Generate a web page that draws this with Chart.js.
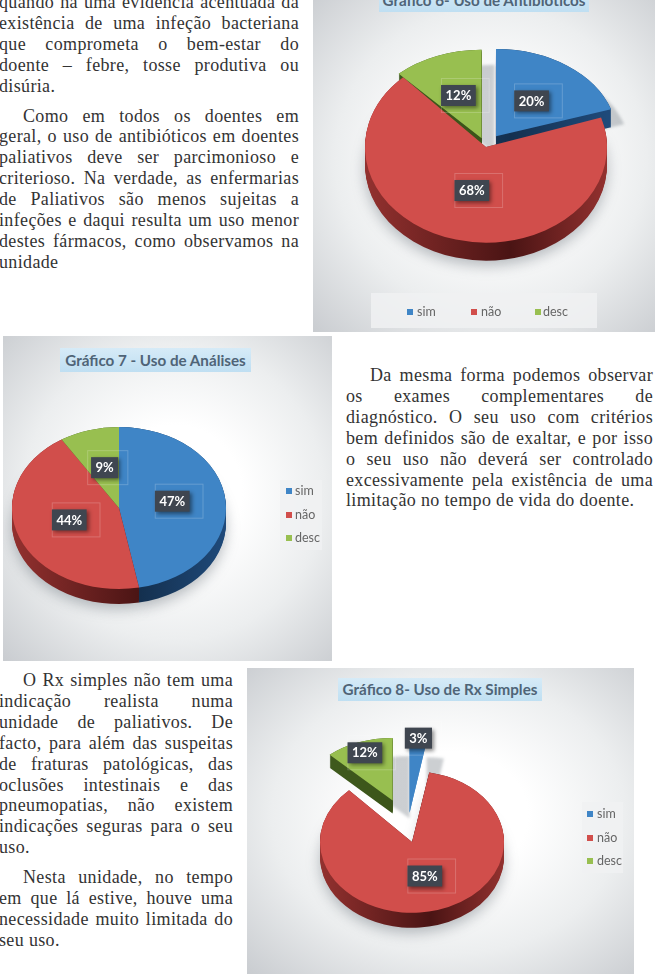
<!DOCTYPE html>
<html lang="pt">
<head>
<meta charset="utf-8">
<title>Uso de meios complementares</title>
<script src="https://cdn.jsdelivr.net/npm/chart.js@4/dist/chart.umd.js"></script>
<style>
	html, body { margin: 0; width: 656px; height: 976px; background: #fff; overflow: hidden; }
	body { position: relative; }
	.col { position: absolute; font: 18px/20.9px "Liberation Serif", serif; letter-spacing: 0.35px; color: #333; }
	.col div { white-space: nowrap; }
	.col .fill { white-space: normal; text-align: justify; text-align-last: justify; }
	.col .gap { margin-top: 9px; }
	.col .ind { text-indent: 24px; }
	.panel { position: absolute; overflow: hidden; background: radial-gradient(ellipse at 52% 48%, #fff 28%, #eceeef 62%, #c9ccd0 100%); }
	.panel canvas { position: absolute; left: 0; top: 0; }
	.title { position: absolute; font: bold 15.2px Lato, sans-serif; color: #4f6477; text-align: center; white-space: nowrap; background: linear-gradient(#d6ebf7, #bfdff2); }
	.legend { position: absolute; background: rgba(240, 241, 242, 0.85); font: 12.5px Lato, sans-serif; color: #666; }
	.legend span { position: absolute; white-space: nowrap; line-height: 14px; }
	.legend i { position: absolute; width: 6px; height: 6px; }
</style>
</head>
<body>
<script>
const categories = ['sim', 'não', 'desc'];
const sliceColors = ['#3f85c6', '#d14e4b', '#98bf50'];
const sideColors = [['#1f4a7a', '#14304f'], ['#93312f', '#4a1414'], ['#3f5a1d', '#3a5219']];

const antibioticos = [20, 68, 12];
const analises = [47, 44, 9];
const rxSimples = [3, 85, 12];

const textBlocoA = [
	['quando há uma evidência acentuada da', 'fill'],
	['existência de uma infeção bacteriana', 'fill'],
	['que comprometa o bem-estar do', 'fill'],
	['doente – febre, tosse produtiva ou', 'fill'],
	['disúria.', ''],
	['Como em todos os doentes em', 'fill gap ind'],
	['geral, o uso de antibióticos em doentes', 'fill'],
	['paliativos deve ser parcimonioso e', 'fill'],
	['criterioso. Na verdade, as enfermarias', 'fill'],
	['de Paliativos são menos sujeitas a', 'fill'],
	['infeções e daqui resulta um uso menor', 'fill'],
	['destes fármacos, como observamos na', 'fill'],
	['unidade', ''],
];
const textBlocoB = [
	['Da mesma forma podemos observar', 'fill ind'],
	['os exames complementares de', 'fill'],
	['diagnóstico. O seu uso com critérios', 'fill'],
	['bem definidos são de exaltar, e por isso', 'fill'],
	['o seu uso não deverá ser controlado', 'fill'],
	['excessivamente pela existência de uma', 'fill'],
	['limitação no tempo de vida do doente.', ''],
];
const textBlocoC = [
	['O Rx simples não tem uma', 'fill ind'],
	['indicação realista numa', 'fill'],
	['unidade de paliativos. De', 'fill'],
	['facto, para além das suspeitas', 'fill'],
	['de fraturas patológicas, das', 'fill'],
	['oclusões intestinais e das', 'fill'],
	['pneumopatias, não existem', 'fill'],
	['indicações seguras para o seu', 'fill'],
	['uso.', ''],
	['Nesta unidade, no tempo', 'fill gap ind'],
	['em que lá estive, houve uma', 'fill'],
	['necessidade muito limitada do', 'fill'],
	['seu uso.', ''],
];

const addText = (lines, left, top, width) => {
	const col = document.createElement('div');
	col.className = 'col';
	col.style.cssText = `left:${left}px;top:${top}px;width:${width}px`;
	lines.forEach(([text, cls]) => {
		const line = document.createElement('div');
		line.textContent = text;
		line.className = cls;
		col.appendChild(line);
	});
	document.body.appendChild(col);
};

// each slice gets its own vertical squash around its tip
const applySquash = (ctx, arc, i, o) => {
	const tipY = o.cy + (arc.y - o.cy) * o.squash;
	ctx.translate(0, tipY);
	ctx.scale(1, o.sliceSquash[i]);
	ctx.translate(0, -arc.y);
};

const drawArc = (ctx, arc, fill) => {
	const saved = arc.options;
	arc.options = { ...saved, backgroundColor: fill };
	arc.draw(ctx);
	arc.options = saved;
};

// tilted pie: exploded slices, cast shadow, extruded side, flat top
const pie3d = {
	id: 'pie3d',
	afterDatasetUpdate(chart) {
		const { explode, nudge } = chart.options.plugins.pie3d;
		chart.getDatasetMeta(0).data.forEach((arc, i) => {
			const mid = (arc.startAngle + arc.endAngle) / 2;
			arc.x += Math.cos(mid) * explode[i] + nudge[i];
			arc.y += Math.sin(mid) * explode[i];
		});
	},
	beforeDatasetDraw() {
		return false;
	},
	beforeDatasetsDraw(chart) {
		const { ctx } = chart;
		const o = chart.options.plugins.pie3d;
		const arcs = chart.getDatasetMeta(0).data;

		const sides = sideColors.map(([a, b]) => {
			const grad = ctx.createLinearGradient(o.cx - o.radius, 0, o.cx + o.radius, 0);
			grad.addColorStop(0, a);
			grad.addColorStop(0.6, b);
			grad.addColorStop(1, a);
			return grad;
		});

		arcs.forEach((arc, i) => {
			const lifted = o.explode[i] > 0;
			ctx.save();
			applySquash(ctx, arc, i, o);
			ctx.shadowColor = lifted ? 'rgba(120, 128, 136, 0.38)' : 'rgba(80, 90, 100, 0.4)';
			ctx.shadowBlur = lifted ? 3 : 14;
			ctx.shadowOffsetX = lifted ? o.castShadow[0] : 0;
			ctx.shadowOffsetY = lifted ? o.castShadow[1] : o.sliceDepth[i] + 5;
			drawArc(ctx, arc, lifted && !o.sliceDepth[i] ? sliceColors[i] : sides[i]);
			ctx.restore();
		});

		arcs.forEach((arc, i) => {
			for (let d = o.sliceDepth[i]; d >= 1; d--) {
				ctx.save();
				ctx.translate(0, d);
				applySquash(ctx, arc, i, o);
				drawArc(ctx, arc, sides[i]);
				ctx.restore();
			}
		});

		arcs.forEach((arc, i) => {
			ctx.save();
			applySquash(ctx, arc, i, o);
			arc.draw(ctx);
			ctx.restore();
		});
	},
	afterDatasetsDraw(chart) {
		const { ctx } = chart;
		const o = chart.options.plugins.pie3d;
		const arcs = chart.getDatasetMeta(0).data;
		const values = chart.data.datasets[0].data;

		// value tags sit on top of the slices
		ctx.save();
		ctx.font = 'bold 13px Lato, sans-serif';
		ctx.textAlign = 'center';
		ctx.textBaseline = 'middle';
		arcs.forEach((arc, i) => {
			const mid = (arc.startAngle + arc.endAngle) / 2;
			const r = arc.outerRadius * o.labelPos[i];
			const tipY = o.cy + (arc.y - o.cy) * o.squash;
			const x = arc.x + Math.cos(mid) * r;
			const y = tipY + Math.sin(mid) * r * o.sliceSquash[i] - o.labelLift;
			const text = `${values[i]}%`;
			const w = ctx.measureText(text).width + 9;
			ctx.strokeStyle = 'rgba(255, 255, 255, 0.2)';
			ctx.lineWidth = 1;
			ctx.strokeRect(x - 17, y - 17, w + 13, 34);
			ctx.save();
			ctx.shadowColor = 'rgba(0, 0, 0, 0.45)';
			ctx.shadowBlur = 4;
			ctx.shadowOffsetX = 2;
			ctx.shadowOffsetY = 2;
			ctx.fillStyle = '#3f4650';
			ctx.fillRect(x - w / 2, y - 10.5, w, 21);
			ctx.restore();
			ctx.fillStyle = '#fff';
			ctx.fillText(text, x, y + 0.5);
		});
		ctx.restore();
	},
};

const addPie = (cfg) => {
	const { box, title, legend, values, cx, cy } = cfg;
	const [left, top, width, height] = box;
	const panel = document.createElement('div');
	panel.className = 'panel';
	panel.style.cssText = `left:${left}px;top:${top}px;width:${width}px;height:${height}px`;
	const canvas = document.createElement('canvas');
	canvas.width = width;
	canvas.height = height;
	panel.appendChild(canvas);

	const lg = document.createElement('div');
	lg.className = 'legend';
	lg.style.cssText = `left:${legend.box[0] - left}px;top:${legend.box[1] - top}px;width:${legend.box[2]}px;height:${legend.box[3]}px`;
	categories.forEach((name, i) => {
		const [sx, tx, y] = legend.items[i];
		const swatch = document.createElement('i');
		swatch.style.cssText = `left:${sx - legend.box[0]}px;top:${y - legend.box[1] - 3}px;background:${sliceColors[i]}`;
		const label = document.createElement('span');
		label.textContent = name;
		label.style.cssText = `left:${tx - legend.box[0]}px;top:${y - legend.box[1] - 7}px`;
		lg.append(swatch, label);
	});
	panel.appendChild(lg);

	const tt = document.createElement('div');
	tt.className = 'title';
	tt.textContent = title.text;
	tt.style.cssText = `left:${title.box[0] - left}px;top:${title.box[1] - top}px;width:${title.box[2]}px;height:${title.box[3]}px;line-height:${title.box[3]}px`;
	panel.appendChild(tt);
	document.body.appendChild(panel);

	const localX = cx - left;
	const localY = cy - top;
	new Chart(canvas, {
		type: 'pie',
		data: {
			labels: categories,
			datasets: [{
				data: values,
				backgroundColor: sliceColors,
				borderWidth: 0,
				clip: false,
			}],
		},
		options: {
			responsive: false,
			animation: false,
			radius: cfg.radius,
			layout: {
				padding: {
					left: Math.max(2 * localX - width, 0),
					right: Math.max(width - 2 * localX, 0),
					top: Math.max(2 * localY - height, 0),
					bottom: Math.max(height - 2 * localY, 0),
				},
			},
			plugins: {
				legend: { display: false },
				tooltip: { enabled: false },
				pie3d: {
					explode: cfg.explode,
					nudge: cfg.nudge,
					labelPos: cfg.labelPos,
					labelLift: cfg.labelLift || 0,
					squash: cfg.squash,
					sliceSquash: cfg.sliceSquash,
					sliceDepth: cfg.sliceDepth,
					castShadow: cfg.castShadow,
					radius: cfg.radius,
					cx: localX,
					cy: localY,
				},
			},
		},
		plugins: [pie3d],
	});
};

addText(textBlocoA, -1, -8, 300);
addText(textBlocoB, 346, 365, 307);
addText(textBlocoC, -1, 670, 234);

addPie({
	box: [313, 0, 342, 332],
	title: { text: 'Gráfico 6- Uso de Antibióticos', box: [379, -12, 210, 24] },
	legend: { box: [371, 293, 226, 35], items: [[407, 417, 312], [471, 481, 312], [535, 543, 312]] },
	values: antibioticos,
	explode: [17, 0, 12],
	nudge: [0, 0, 0],
	labelPos: [0.5, 0.47, 0.52],
	sliceSquash: [0.72, 0.79, 0.73],
	sliceDepth: [18, 18, 18],
	castShadow: [13, 15],
	cx: 486, cy: 147, radius: 121, squash: 0.79,
});
addPie({
	box: [3, 336, 329, 325],
	title: { text: 'Gráfico 7 - Uso de Análises', box: [60, 348, 191, 24] },
	legend: { box: [280, 480, 42, 70], items: [[286, 295, 491], [286, 295, 515], [286, 295, 538]] },
	values: analises,
	explode: [0, 0, 0],
	nudge: [0, 0, 0],
	labelPos: [0.5, 0.5, 0.48],
	labelLift: 3,
	sliceSquash: [0.757, 0.757, 0.757],
	sliceDepth: [15, 15, 15],
	castShadow: [0, 0],
	cx: 119, cy: 508, radius: 107, squash: 0.757,
});
addPie({
	box: [247, 668, 387, 306],
	title: { text: 'Gráfico 8- Uso de Rx Simples', box: [338, 678, 204, 23] },
	legend: { box: [582, 802, 41, 71], items: [[587, 597, 814], [587, 597, 838], [587, 597, 861]] },
	values: rxSimples,
	explode: [38, 0, 58],
	nudge: [-6, 0, 2],
	labelPos: [1.02, 0.5, 0.82],
	sliceSquash: [0.8, 0.77, 0.68],
	sliceDepth: [0, 15, 13],
	castShadow: [17, 18],
	cx: 412, cy: 842, radius: 92, squash: 0.77,
});
</script>
</body>
</html>
